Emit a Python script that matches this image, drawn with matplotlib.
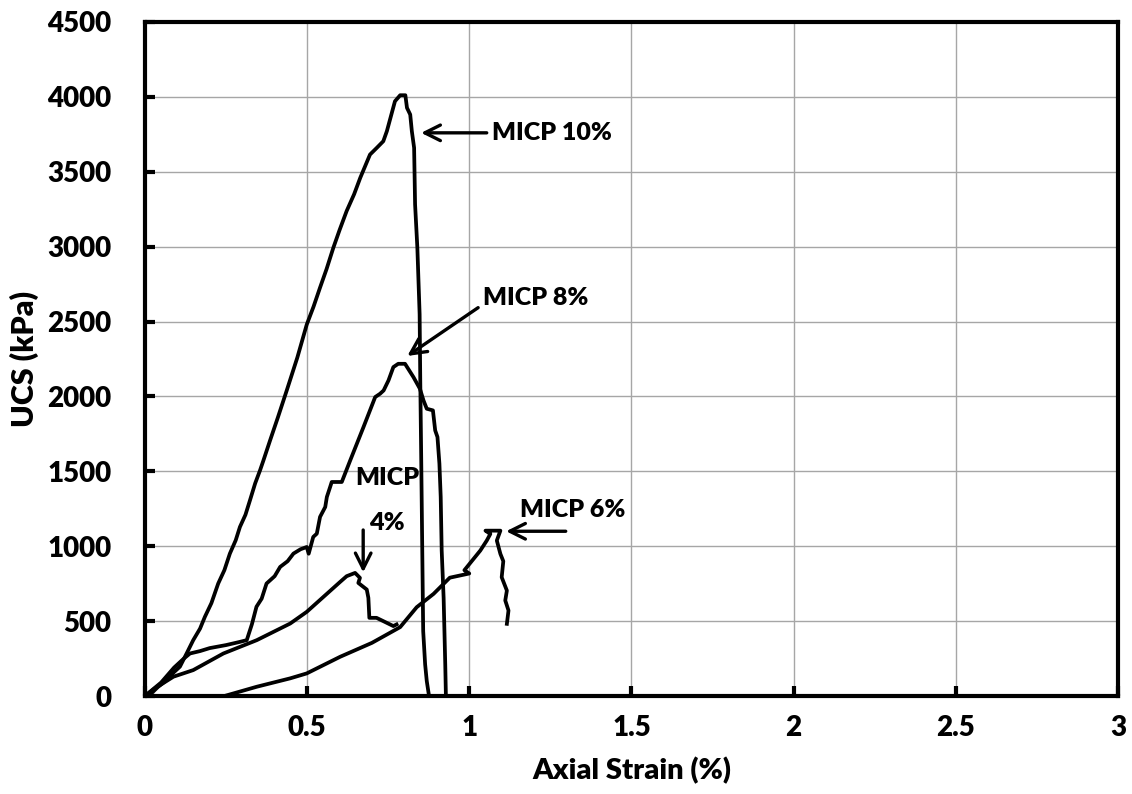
import matplotlib
matplotlib.use('Agg')
import matplotlib.pyplot as plt

plt.rcParams['font.family'] = ['Lato', 'DejaVu Sans']
plt.rcParams['font.weight'] = 'heavy'
plt.rcParams['axes.labelweight'] = 'heavy'

# stress-strain curves: axial strain (%) vs UCS (kPa)
micp10_strain = [0, 0.015, 0.04, 0.067, 0.09, 0.108, 0.13, 0.149, 0.17, 0.185, 0.205, 0.226, 0.245,
                 0.262, 0.28, 0.293, 0.31, 0.324, 0.34, 0.355, 0.365, 0.386, 0.41, 0.437, 0.47, 0.499,
                 0.52, 0.540, 0.56, 0.581, 0.60, 0.622, 0.645, 0.664, 0.694, 0.715, 0.735, 0.746, 0.771,
                 0.787, 0.803, 0.808, 0.818, 0.823, 0.83, 0.833, 0.84, 0.847, 0.849, 0.852, 0.855,
                 0.858, 0.864, 0.869, 0.876]
micp10_ucs = [0, 7, 60, 107, 160, 196, 290, 373, 450, 529, 620, 751, 840,
              951, 1040, 1129, 1210, 1307, 1420, 1507, 1570, 1707, 1860, 2038, 2260, 2480,
              2600, 2727, 2850, 2993, 3110, 3238, 3350, 3460, 3615, 3660, 3704, 3771, 3971,
              4011, 4011, 3927, 3882, 3771, 3660, 3282, 2993, 2549, 2104, 1571, 1000,
              433, 211, 100, 0]

micp8_strain = [0, 0.05, 0.09, 0.12, 0.139, 0.17, 0.2, 0.25, 0.29, 0.314, 0.33, 0.344, 0.36, 0.375,
                0.40, 0.417, 0.44, 0.458, 0.48, 0.499, 0.505, 0.519, 0.53, 0.540, 0.556, 0.561,
                0.571, 0.576, 0.607, 0.633, 0.674, 0.710, 0.725, 0.736, 0.751, 0.766, 0.781, 0.802,
                0.828, 0.848, 0.859, 0.869, 0.888, 0.895, 0.902, 0.908, 0.912, 0.915, 0.921,
                0.926, 0.928]
micp8_ucs = [0, 90, 190, 250, 284, 300, 320, 340, 360, 373, 480, 596, 650, 751,
             800, 862, 900, 951, 980, 995, 950, 1062, 1084, 1196, 1262, 1329,
             1395, 1429, 1429, 1573, 1796, 1996, 2018, 2040, 2107, 2196, 2218, 2218,
             2129, 2051, 1973, 1918, 1907, 1773, 1729, 1551, 1329, 973, 655,
             211, 0]

micp6_strain = [0.245, 0.345, 0.448, 0.499, 0.602, 0.70, 0.787, 0.838, 0.890, 0.94, 1.0, 0.985,
                1.034, 1.054, 1.065, 1.05, 1.096, 1.085, 1.096, 1.105, 1.1, 1.116, 1.111, 1.121,
                1.116]
micp6_ucs = [0, 62, 118, 151, 262, 355, 460, 593, 682, 790, 818, 840,
             971, 1038, 1082, 1104, 1104, 1038, 949, 900, 793, 704, 638, 571,
             482]

micp4_strain = [0, 0.03, 0.088, 0.149, 0.242, 0.345, 0.448, 0.499, 0.602, 0.622, 0.648, 0.663,
                0.658, 0.684, 0.689, 0.692, 0.714, 0.735, 0.766, 0.776]
micp4_ucs = [0, 50, 129, 173, 284, 373, 484, 562, 762, 800, 822, 789,
             755, 711, 655, 522, 522, 500, 467, 478]

fig = plt.figure(figsize=(11.32, 7.94), dpi=100)
ax = fig.add_axes([0.128, 0.1234, 0.8596, 0.8489])

for xs, ys in [(micp10_strain, micp10_ucs), (micp8_strain, micp8_ucs),
               (micp6_strain, micp6_ucs), (micp4_strain, micp4_ucs)]:
    ax.plot(xs, ys, color='black', lw=2.7, solid_joinstyle='round', zorder=3)

arr = dict(arrowstyle='->', color='black', lw=2.4, mutation_scale=28)
ax.annotate('MICP 10%', xy=(0.843, 3760), xytext=(1.071, 3760), ha='left', va='center',
            fontsize=18, arrowprops=arr)
ax.annotate('MICP 8%', xy=(0.802, 2260), xytext=(1.043, 2660), ha='left', va='center',
            fontsize=18, arrowprops=dict(arr, relpos=(0, 0.2)))
ax.annotate('', xy=(1.105, 1100), xytext=(1.306, 1100), arrowprops=arr)
ax.text(1.157, 1240, 'MICP 6%', ha='left', va='center', fontsize=18)
ax.annotate('', xy=(0.673, 807), xytext=(0.673, 1127), arrowprops=arr)
ax.text(0.746, 1453, 'MICP', ha='center', va='center', fontsize=18)
ax.text(0.746, 1153, '4%', ha='center', va='center', fontsize=18)

ax.set_xlim(0, 3)
ax.set_ylim(0, 4500)
ax.set_xticks([0, 0.5, 1, 1.5, 2, 2.5, 3])
ax.set_xticklabels(['0', '0.5', '1', '1.5', '2', '2.5', '3'])
ax.set_yticks(range(0, 4501, 500))
ax.grid(True, color='#a6a6a6', lw=1)
ax.set_axisbelow(True)
for s in ax.spines.values():
    s.set_linewidth(3)
ax.tick_params(direction='in', length=7, width=3, labelsize=20)
ax.tick_params(axis='y', pad=24)
ax.tick_params(axis='x', pad=14)
ax.set_xlabel('Axial Strain (%)', fontsize=21, fontweight='heavy', labelpad=11)
ax.set_ylabel('UCS (kPa)', fontsize=22, fontweight='heavy', labelpad=6)

fig.savefig('out.png', dpi=100)
